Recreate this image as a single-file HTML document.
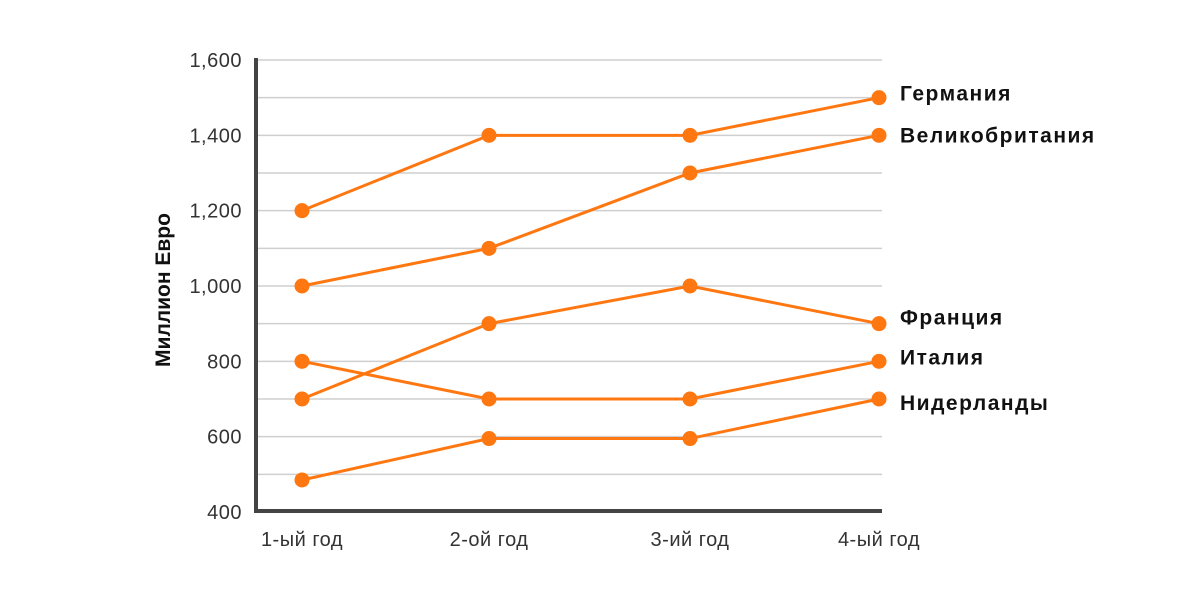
<!DOCTYPE html>
<html><head><meta charset="utf-8"><style>
body{margin:0;background:#fff}
svg{display:block;font-family:"Liberation Sans",sans-serif}
</style></head><body>
<svg id="chart" width="1200" height="600" viewBox="0 0 1200 600" xmlns="http://www.w3.org/2000/svg">
<g id="grid"></g>
<g id="axes"></g>
<g id="series"></g>
<g id="labels"></g>
</svg>
<script>
const categories = ["1-ый год","2-ой год","3-ий год","4-ый год"];
const seriesNames = ["Германия","Великобритания","Франция","Италия","Нидерланды"];
const germany = [1200,1400,1400,1500];
const uk = [1000,1100,1300,1400];
const france = [700,900,1000,900];
const italy = [800,700,700,800];
const netherlands = [485,595,595,700];
const yTicks = [400,600,800,1000,1200,1400,1600];
const yTickLabels = ["400","600","800","1,000","1,200","1,400","1,600"];
const gridValues = [500,600,700,800,900,1000,1100,1200,1300,1400,1500,1600];

const NS="http://www.w3.org/2000/svg";
const xPos=[302,489,690,879];
function x(i){return xPos[i];}
function y(v){return 512-(v-400)*(512-60)/1200;}
function mk(tag,attrs,parent,text){const e=document.createElementNS(NS,tag);for(const k in attrs)e.setAttribute(k,attrs[k]);if(text!==undefined)e.textContent=text;parent.appendChild(e);return e;}
const grid=document.getElementById('grid'),axes=document.getElementById('axes'),ser=document.getElementById('series'),lab=document.getElementById('labels');
gridValues.forEach(v=>{const l=mk('line',{x1:258,x2:882,y1:y(v),y2:y(v),stroke:'#cfcfcf','stroke-width':1.5},grid);

});
const ya=mk('line',{x1:256,x2:256,y1:58,y2:512,stroke:'#444','stroke-width':4},axes);


const xa=mk('line',{x1:254,x2:882,y1:511,y2:511,stroke:'#444','stroke-width':4},axes);


yTicks.forEach((v,i)=>{const t=mk('text',{x:242,y:y(v)+7,'text-anchor':'end','font-size':20,'letter-spacing':0.5,fill:'#333'},axes,yTickLabels[i]);

});
categories.forEach((c,i)=>{const t=mk('text',{x:x(i),y:546,'text-anchor':'middle','font-size':20,'letter-spacing':0.5,fill:'#333'},axes,c);

});
const yt=mk('text',{x:0,y:0,'text-anchor':'middle','font-size':21,'font-weight':'bold',fill:'#111',transform:'translate(170,290) rotate(-90)'},axes,'Миллион Евро');


const all=[germany,uk,france,italy,netherlands];
const labelOffsets=[-4,0,-6,-4,4];
all.forEach((d,si)=>{
  const g=mk('g',{},ser);
  
  
  const pl=mk('polyline',{points:d.map((v,i)=>x(i)+','+y(v)).join(' '),fill:'none',stroke:'#ff7711','stroke-width':3},g);
  
  
  d.forEach((v,i)=>{const c=mk('circle',{cx:x(i),cy:y(v),r:7.5,fill:'#ff7711'},g);
    
    });
  const t=mk('text',{x:900,y:y(d[3])+7+labelOffsets[si],'font-size':21,'font-weight':'bold','letter-spacing':1.5,fill:'#111'},lab,seriesNames[si]);
  
  
});
</script>
</body></html>
